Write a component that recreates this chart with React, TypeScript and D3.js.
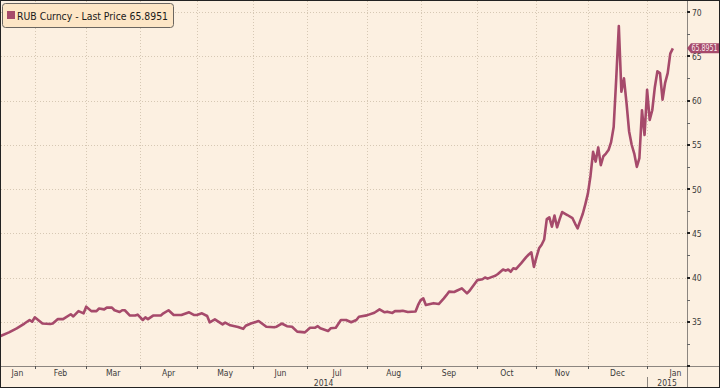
import * as d3 from 'd3';
import { useEffect, useRef } from 'react';

// RUB Curncy, last price, trading days only
const dates = [
  '2014-01-14', '2014-01-20', '2014-01-23', '2014-01-28', '2014-01-30', '2014-01-31',
  '2014-02-03', '2014-02-06', '2014-02-11', '2014-02-12', '2014-02-14', '2014-02-18',
  '2014-02-21', '2014-02-24', '2014-02-26', '2014-02-28',
  '2014-03-03', '2014-03-05', '2014-03-07', '2014-03-10', '2014-03-12', '2014-03-13',
  '2014-03-17', '2014-03-18', '2014-03-20', '2014-03-21', '2014-03-24', '2014-03-26',
  '2014-03-28', '2014-03-31',
  '2014-04-02', '2014-04-03', '2014-04-04', '2014-04-08', '2014-04-11', '2014-04-14',
  '2014-04-16', '2014-04-18', '2014-04-23', '2014-04-28', '2014-04-30',
  '2014-05-01', '2014-05-05', '2014-05-07', '2014-05-08', '2014-05-12', '2014-05-15',
  '2014-05-16', '2014-05-20', '2014-05-23', '2014-05-27', '2014-05-28', '2014-05-30',
  '2014-06-04', '2014-06-09', '2014-06-12', '2014-06-13', '2014-06-17', '2014-06-19',
  '2014-06-23', '2014-06-25', '2014-06-30',
  '2014-07-02', '2014-07-04', '2014-07-07', '2014-07-08', '2014-07-11', '2014-07-14',
  '2014-07-16', '2014-07-18', '2014-07-22', '2014-07-24', '2014-07-28', '2014-07-29',
  '2014-08-01', '2014-08-06', '2014-08-08', '2014-08-12', '2014-08-13', '2014-08-15',
  '2014-08-18', '2014-08-20', '2014-08-21', '2014-08-25', '2014-08-28', '2014-08-29',
  '2014-09-01', '2014-09-02', '2014-09-03', '2014-09-08', '2014-09-10', '2014-09-12',
  '2014-09-15', '2014-09-16', '2014-09-18', '2014-09-19', '2014-09-23', '2014-09-25',
  '2014-09-26', '2014-09-30',
  '2014-10-01', '2014-10-03', '2014-10-06', '2014-10-07', '2014-10-09', '2014-10-10',
  '2014-10-13', '2014-10-15', '2014-10-16', '2014-10-17', '2014-10-20', '2014-10-21',
  '2014-10-22', '2014-10-24', '2014-10-28', '2014-10-29', '2014-10-30', '2014-10-31',
  '2014-11-03', '2014-11-04', '2014-11-05', '2014-11-06', '2014-11-07', '2014-11-10',
  '2014-11-11', '2014-11-12', '2014-11-13', '2014-11-14', '2014-11-17', '2014-11-19',
  '2014-11-21', '2014-11-24', '2014-11-25', '2014-11-26', '2014-11-27', '2014-11-28',
  '2014-12-01', '2014-12-02', '2014-12-03', '2014-12-04', '2014-12-05', '2014-12-08',
  '2014-12-09', '2014-12-10', '2014-12-11', '2014-12-12', '2014-12-15', '2014-12-16',
  '2014-12-17', '2014-12-18', '2014-12-19', '2014-12-22', '2014-12-23', '2014-12-24',
  '2014-12-25', '2014-12-26', '2014-12-29', '2014-12-30', '2014-12-31',
  '2015-01-01', '2015-01-02', '2015-01-05', '2015-01-06', '2015-01-07', '2015-01-08',
  '2015-01-09', '2015-01-12', '2015-01-13', '2015-01-14', '2015-01-15',
];

const rub = [
  33.3, 33.8, 34.26, 34.8, 35.2, 35.0,
  35.5, 34.8, 34.75, 34.8, 35.3, 35.3,
  35.85, 35.6, 36.2, 35.95,
  36.7, 36.2, 36.2, 36.5, 36.4, 36.6,
  36.6, 36.3, 36.1, 36.3, 36.3, 35.7,
  35.7, 35.8,
  35.2, 35.5, 35.3, 35.7, 35.7, 35.95,
  36.3, 35.76, 35.76, 36.07, 35.76,
  35.76, 35.95, 35.65, 34.94, 35.27, 34.7,
  34.9, 34.6, 34.4, 34.2, 34.55, 34.8,
  35.08, 34.44, 34.37, 34.44, 34.8, 34.5,
  34.44, 33.88, 33.8,
  34.33, 34.33, 34.5, 34.26, 33.95, 34.26,
  34.33, 35.2, 35.2, 34.94, 35.2, 35.57,
  35.72, 36.02, 36.4, 36.07, 36.14, 36.0,
  36.2, 36.2, 36.25, 36.1, 36.15, 36.9,
  37.45, 37.65, 36.9, 37.1, 37.0, 37.65,
  38.0, 38.4, 38.36, 38.5, 38.78, 38.2,
  38.5, 39.3,
  39.7, 39.8, 40.0, 39.87, 40.1, 40.2,
  40.4, 40.9, 40.77, 40.9, 40.65, 41.04,
  40.96, 41.6, 42.3, 42.6, 42.85, 41.2,
  42.3, 43.3, 43.7, 44.3, 46.6, 46.8,
  45.74, 47.0, 45.67, 46.6, 47.4, 47.06,
  46.7, 46.1, 45.56, 46.4, 47.2, 48.3,
  49.5, 51.5, 54.2, 53.1, 54.7, 52.7,
  53.7, 54.0, 54.4, 55.3, 57.0, 62.5,
  68.4, 61.0, 62.5, 59.7, 56.5, 55.0,
  54.0, 52.5, 53.5, 58.9, 56.1,
  61.2, 57.8, 58.9, 61.5, 63.3, 63.1,
  60.1, 62.0, 63.1, 65.3, 65.8951,
];

const yTicks = [30, 35, 40, 45, 50, 55, 60, 65, 70];
const yMinor = [32.5, 37.5, 42.5, 47.5, 52.5, 57.5, 62.5, 67.5];
const years = ['2014', '2015'];
const seriesName = 'RUB Curncy - Last Price';
const lastPrice = 65.8951;

const lineColor = '#a64a6b';
const bg = '#fcf0e1';
const gridColor = '#d6c8b4';

export default function App() {
  const svgRef = useRef<SVGSVGElement | null>(null);

  useEffect(() => {
    if (!svgRef.current) return;
    const W = 720;
    const H = 388;
    const plotR = 687; // right axis
    const plotB = 366; // bottom axis

    const parse = d3.timeParse('%Y-%m-%d');
    const ref = new Date(2014, 1, 3);
    const isWd = (d: Date) => d.getDay() % 6 !== 0;
    // weekday index (bloomberg axis skips weekends)
    const wd = (d: Date) =>
      d >= ref
        ? d3.timeDay.range(ref, d).filter(isWd).length
        : -d3.timeDay.range(d, ref).filter(isWd).length;

    const x = d3.scaleLinear()
      .domain([wd(new Date(2014, 0, 14)) + 0.5, wd(new Date(2015, 0, 22)) + 0.5])
      .range([0, plotR]);
    const y = d3.scaleLinear().domain([30, 70]).range([plotB, 12]);

    const pts = dates.map((s, i) => ({ i: wd(parse(s)!), v: rub[i] }));

    const svg = d3.select(svgRef.current);
    svg.selectAll('*').remove();
    svg.attr('width', W).attr('height', H).attr('font-family', '"Liberation Sans Narrow", "DejaVu Sans Condensed", sans-serif');

    svg.append('rect').attr('width', W).attr('height', H).attr('fill', bg);

    svg.append('clipPath').attr('id', 'plot')
      .append('rect').attr('x', 0).attr('y', 0).attr('width', plotR).attr('height', plotB);

    // month boundaries
    const monthStarts = d3.timeMonth.range(new Date(2014, 0, 1), new Date(2015, 1, 2));
    const bounds = monthStarts.map(m => x(wd(m)));

    const grid = svg.append('g')
      .attr('stroke', gridColor)
      .attr('stroke-dasharray', '1,2')
      .attr('stroke-width', 1);
    grid.selectAll('line.h')
      .data(yTicks.filter(t => t > 30))
      .join('line')
      .attr('x1', 1).attr('x2', plotR)
      .attr('y1', d => Math.round(y(d)) + 0.5).attr('y2', d => Math.round(y(d)) + 0.5);
    grid.selectAll('line.v')
      .data(bounds.filter(b => b > 0 && b < plotR))
      .join('line')
      .attr('x1', d => Math.round(d) + 0.5).attr('x2', d => Math.round(d) + 0.5)
      .attr('y1', 1).attr('y2', plotB);

    // price line
    const line = d3.line<{ i: number; v: number }>()
      .x(d => x(d.i))
      .y(d => y(d.v));
    svg.append('path')
      .datum(pts)
      .attr('clip-path', 'url(#plot)')
      .attr('fill', 'none')
      .attr('stroke', lineColor)
      .attr('stroke-width', 2.6)
      .attr('stroke-linejoin', 'round')
      .attr('d', line);

    // axes
    svg.append('line')
      .attr('x1', 0).attr('x2', W).attr('y1', plotB + 0.5).attr('y2', plotB + 0.5)
      .attr('stroke', '#8c8680');
    svg.append('line')
      .attr('x1', plotR + 0.5).attr('x2', plotR + 0.5).attr('y1', 0).attr('y2', H)
      .attr('stroke', '#8c8680');

    // month ticks + labels
    svg.append('g').selectAll('line')
      .data(bounds.filter(b => b > 0 && b < plotR))
      .join('line')
      .attr('x1', d => Math.round(d) + 0.5).attr('x2', d => Math.round(d) + 0.5)
      .attr('y1', plotB).attr('y2', plotB + 3)
      .attr('stroke', '#555');

    const fmtMonth = d3.timeFormat('%b');
    const monthLabels = monthStarts.slice(0, -1).map((m, k) => {
      const a = Math.max(bounds[k], 0);
      const b = Math.min(bounds[k + 1], plotR + 19);
      return { t: fmtMonth(m), x: (a + b) / 2 };
    });
    svg.append('g')
      .selectAll('text')
      .data(monthLabels)
      .join('text')
      .attr('x', d => d.x)
      .attr('y', 376)
      .attr('text-anchor', 'middle')
      .attr('font-size', 8.5)
      .attr('fill', '#3a3a3a')
      .text(d => d.t);

    // year split
    const yearSplit = x(wd(new Date(2015, 0, 1)));
    svg.append('line')
      .attr('x1', Math.round(yearSplit) + 0.5).attr('x2', Math.round(yearSplit) + 0.5)
      .attr('y1', 377).attr('y2', H)
      .attr('stroke', '#8c8680');
    svg.append('g')
      .selectAll('text')
      .data([{ t: years[0], x: yearSplit / 2 }, { t: years[1], x: (yearSplit + plotR) / 2 }])
      .join('text')
      .attr('x', d => d.x)
      .attr('y', 386)
      .attr('text-anchor', 'middle')
      .attr('font-size', 8.5)
      .attr('fill', '#3a3a3a')
      .text(d => d.t);

    // right y axis
    const yAx = svg.append('g');
    yAx.selectAll('rect.maj')
      .data(yTicks)
      .join('rect')
      .attr('x', plotR).attr('y', d => Math.round(y(d)) - 1)
      .attr('width', 3).attr('height', 2)
      .attr('fill', '#222');
    yAx.selectAll('line.min')
      .data(yMinor)
      .join('line')
      .attr('x1', plotR).attr('x2', plotR + 3)
      .attr('y1', d => Math.round(y(d)) + 0.5).attr('y2', d => Math.round(y(d)) + 0.5)
      .attr('stroke', '#666');
    yAx.selectAll('text')
      .data(yTicks.filter(t => t > 30))
      .join('text')
      .attr('x', plotR + 5)
      .attr('y', d => y(d) + 3.5)
      .attr('font-size', 8.5)
      .attr('fill', '#3a3a3a')
      .text(d => d);

    // last price tag
    const ly = y(lastPrice);
    svg.append('path')
      .attr('d', `M${plotR},${ly} L${plotR + 4},${ly - 5} L${W - 1},${ly - 5} L${W - 1},${ly + 5} L${plotR + 4},${ly + 5} Z`)
      .attr('fill', lineColor);
    svg.append('text')
      .attr('x', plotR + 4.5)
      .attr('y', ly + 3)
      .attr('font-size', 8)
      .attr('fill', '#fbe9ee')
      .attr('textLength', 26)
      .attr('lengthAdjust', 'spacingAndGlyphs')
      .text(lastPrice.toFixed(4));

    // legend
    const leg = svg.append('g');
    leg.append('rect')
      .attr('x', 2.5).attr('y', 3.5).attr('width', 171).attr('height', 24).attr('rx', 3)
      .attr('fill', '#fde6c6').attr('stroke', '#6b6660');
    leg.append('rect')
      .attr('x', 7).attr('y', 11).attr('width', 8).attr('height', 8)
      .attr('fill', lineColor);
    leg.append('text')
      .attr('x', 17).attr('y', 19.5)
      .attr('font-family', '"DejaVu Sans Condensed", sans-serif')
      .attr('font-size', 10.5)
      .attr('fill', '#1a1a1a')
      .attr('textLength', 151)
      .attr('lengthAdjust', 'spacingAndGlyphs')
      .text(`${seriesName} ${lastPrice}`);

    // frame
    svg.append('rect')
      .attr('x', 0.5).attr('y', 0.5).attr('width', W - 1).attr('height', H - 1)
      .attr('fill', 'none').attr('stroke', '#222');
  }, []);

  return (
    <div style={{ position: 'absolute', left: 0, top: 0 }}>
      <svg ref={svgRef} style={{ display: 'block' }} />
    </div>
  );
}
